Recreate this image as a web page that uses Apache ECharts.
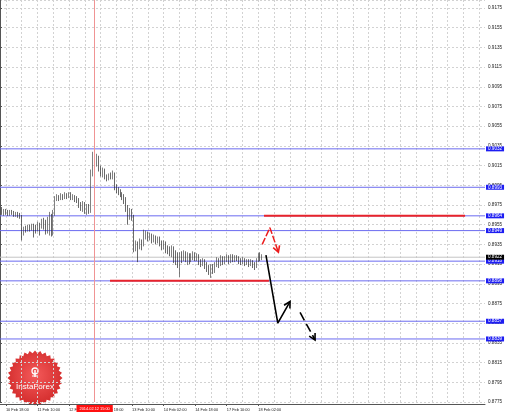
<!DOCTYPE html>
<html>
<head>
<meta charset="utf-8">
<script src="https://cdn.jsdelivr.net/npm/echarts@6/dist/echarts.min.js"></script>
<style>
html, body { margin: 0; padding: 0; background: #fff; }
#chart { width: 510px; height: 416px; }
</style>
</head>
<body>
<div id="chart"></div>
<script>
// USDCHF H1, bar 0 = 10 Feb 15:00
const openP = [
  0.8974,0.8971,0.8967,0.8969,0.8968,0.8966,0.8968,0.8967,0.8965,0.8966,
  0.8965,0.8964,0.8948,0.8951,0.8950,0.8953,0.8951,0.8954,0.8952,0.8950,
  0.8955,0.8953,0.8958,0.8956,0.8952,0.8957,0.8962,0.8947,0.8966,0.8981,
  0.8983,0.8982,0.8984,0.8983,0.8985,0.8984,0.8986,0.8983,0.8984,0.8982,
  0.8980,0.8976,0.8973,0.8977,0.8971,0.8974,0.8969,0.9008,0.9026,0.9020,
  0.9024,0.9012,0.9008,0.9010,0.9004,0.9003,0.9005,0.9004,0.9006,0.8994,
  0.8991,0.8989,0.8986,0.8984,0.8981,0.8972,0.8966,0.8969,0.8963,0.8931,
  0.8936,0.8933,0.8938,0.8935,0.8944,0.8946,0.8942,0.8944,0.8940,0.8942,
  0.8939,0.8941,0.8937,0.8934,0.8936,0.8931,0.8930,0.8928,0.8931,0.8926,
  0.8924,0.8920,0.8925,0.8922,0.8926,0.8921,0.8924,0.8920,0.8923,0.8925,
  0.8922,0.8924,0.8918,0.8916,0.8919,0.8915,0.8912,0.8909,0.8913,0.8910,
  0.8914,0.8919,0.8916,0.8921,0.8918,0.8920,0.8922,0.8919,0.8923,0.8920,
  0.8922,0.8921,0.8919,0.8918,0.8920,0.8917,0.8918,0.8916,0.8918,0.8915,
  0.8913,0.8919,0.8924,0.8921
];
const closeP = [
  0.8971,0.8967,0.8969,0.8968,0.8966,0.8968,0.8967,0.8965,0.8966,0.8965,
  0.8964,0.8948,0.8951,0.8950,0.8953,0.8951,0.8954,0.8952,0.8950,0.8955,
  0.8953,0.8958,0.8956,0.8952,0.8957,0.8962,0.8947,0.8966,0.8981,0.8983,
  0.8982,0.8984,0.8983,0.8985,0.8984,0.8986,0.8983,0.8984,0.8982,0.8980,
  0.8976,0.8973,0.8977,0.8971,0.8974,0.8969,0.9008,0.9026,0.9020,0.9024,
  0.9012,0.9008,0.9010,0.9004,0.9003,0.9005,0.9004,0.9006,0.8994,0.8991,
  0.8989,0.8986,0.8984,0.8981,0.8972,0.8966,0.8969,0.8963,0.8931,0.8936,
  0.8933,0.8938,0.8935,0.8944,0.8946,0.8942,0.8944,0.8940,0.8942,0.8939,
  0.8941,0.8937,0.8934,0.8936,0.8931,0.8930,0.8928,0.8931,0.8926,0.8924,
  0.8920,0.8925,0.8922,0.8926,0.8921,0.8924,0.8920,0.8923,0.8925,0.8922,
  0.8924,0.8918,0.8916,0.8919,0.8915,0.8912,0.8909,0.8913,0.8910,0.8914,
  0.8919,0.8916,0.8921,0.8918,0.8920,0.8922,0.8919,0.8923,0.8920,0.8922,
  0.8921,0.8919,0.8918,0.8920,0.8917,0.8918,0.8916,0.8918,0.8915,0.8913,
  0.8919,0.8924,0.8921,0.8922
];
const lowP = [
  0.8966,0.8965,0.8964,0.8965,0.8964,0.8964,0.8965,0.8963,0.8963,0.8962,
  0.8961,0.8939,0.8944,0.8947,0.8948,0.8948,0.8949,0.8942,0.8946,0.8948,
  0.8944,0.8951,0.8950,0.8945,0.8946,0.8944,0.8943,0.8944,0.8964,0.8979,
  0.8979,0.8980,0.8980,0.8981,0.8981,0.8982,0.8980,0.8980,0.8978,0.8977,
  0.8972,0.8969,0.8968,0.8966,0.8965,0.8966,0.8967,0.9004,0.9016,0.9014,
  0.9009,0.9004,0.9003,0.9001,0.8999,0.9000,0.9001,0.9001,0.8990,0.8987,
  0.8985,0.8983,0.8980,0.8976,0.8968,0.8955,0.8960,0.8959,0.8927,0.8928,
  0.8917,0.8930,0.8929,0.8933,0.8940,0.8938,0.8939,0.8936,0.8937,0.8935,
  0.8936,0.8933,0.8929,0.8930,0.8926,0.8925,0.8923,0.8922,0.8916,0.8914,
  0.8911,0.8902,0.8916,0.8918,0.8917,0.8914,0.8915,0.8917,0.8919,0.8918,
  0.8918,0.8914,0.8912,0.8913,0.8910,0.8907,0.8904,0.8901,0.8905,0.8906,
  0.8912,0.8911,0.8913,0.8914,0.8915,0.8917,0.8915,0.8916,0.8917,0.8917,
  0.8918,0.8915,0.8914,0.8915,0.8913,0.8914,0.8912,0.8913,0.8911,0.8909,
  0.8911,0.8917,0.8918,0.8919
];
const highP = [
  0.8977,0.8973,0.8971,0.8971,0.8970,0.8970,0.8970,0.8969,0.8968,0.8968,
  0.8967,0.8965,0.8953,0.8954,0.8955,0.8955,0.8956,0.8956,0.8955,0.8958,
  0.8957,0.8961,0.8962,0.8960,0.8963,0.8968,0.8966,0.8970,0.8984,0.8986,
  0.8985,0.8987,0.8986,0.8988,0.8987,0.8988,0.8988,0.8986,0.8985,0.8984,
  0.8982,0.8978,0.8979,0.8978,0.8976,0.8976,0.9011,0.9029,0.9037,0.9027,
  0.9025,0.9015,0.9013,0.9012,0.9006,0.9007,0.9008,0.9010,0.9008,0.8996,
  0.8993,0.8991,0.8988,0.8986,0.8983,0.8975,0.8972,0.8971,0.8965,0.8939,
  0.8938,0.8941,0.8940,0.8950,0.8949,0.8948,0.8947,0.8946,0.8945,0.8944,
  0.8943,0.8943,0.8939,0.8939,0.8938,0.8934,0.8933,0.8934,0.8933,0.8929,
  0.8927,0.8927,0.8928,0.8929,0.8928,0.8927,0.8926,0.8926,0.8928,0.8927,
  0.8926,0.8925,0.8920,0.8921,0.8920,0.8917,0.8914,0.8915,0.8915,0.8917,
  0.8922,0.8921,0.8924,0.8923,0.8923,0.8925,0.8924,0.8925,0.8925,0.8924,
  0.8924,0.8923,0.8921,0.8922,0.8921,0.8920,0.8920,0.8920,0.8919,0.8917,
  0.8921,0.8926,0.8927,0.8925
];

// time axis labels (bar index -> text)
const tickIdx = [3, 19, 35, 51, 67, 83, 99, 115, 131];
const tickText = ['10 Feb 18:00', '11 Feb 10:00', '12 Feb 02:00', '12 Feb 18:00', '13 Feb 10:00',
                  '14 Feb 02:00', '14 Feb 18:00', '17 Feb 10:00', '18 Feb 02:00'];

// horizontal levels and the current bid
const levels = [0.9032, 0.8993, 0.8964, 0.8949, 0.8918, 0.8898, 0.8857, 0.8839];
const bidPrice = 0.8922;
const crossIdx = 48;
const crossText = '2014.02.12 15:00';

// drawn objects, [bar index, price]
const supportLine = [[55.8, 0.8898], [136.4, 0.8898]];
const resistLine = [[133.9, 0.8964], [235.9, 0.8964]];
const redPath = [[133.0, 0.8935], [136.9, 0.8952], [141.2, 0.8927]];
const blackPath = [[134.9, 0.8924], [140.9, 0.8855], [147.1, 0.8877]];
const blackDashPath = [[152.2, 0.8866], [159.8, 0.8838]];

const slotCount = 247;
const categories = [];
for (let i = 0; i < slotCount; i++) categories.push(String(i));
const candles = openP.map((o, i) => [o, closeP[i], lowP[i], highP[i]]);

const paths = [redPath, blackPath, blackDashPath];
const headColors = ['#ec1c1c', '#000', '#000'];
const heads = paths.map(p => {
    const a = p[p.length - 2], b = p[p.length - 1];
    return [a[0], a[1], b[0], b[1]];
});

const font = 'Liberation Sans';
const blue = '#6b6bf0';
const gridColor = '#d2d2d2';

let chart = echarts.init(document.getElementById('chart'));

// a full-width horizontal level with its price box on the axis
function levelSeries(v, lineColor, boxColor) {
    return {
        type: 'line', xAxisIndex: 1, silent: true, z: 3,
        data: [[0, v], [slotCount - 1, v]],
        symbol: 'none',
        lineStyle: { color: lineColor, width: 1 },
        endLabel: {
            show: true, distance: 1,
            formatter: () => v.toFixed(4),
            backgroundColor: boxColor, color: '#fff',
            fontSize: 4.6, fontFamily: font, lineHeight: 5, padding: [0, 2, 0, 2]
        }
    };
}

// star badge outline
const starPts = [];
for (let k = 0; k < 64; k++) {
    const r = k % 2 ? 24.8 : 27.5;
    const a = Math.PI * k / 32;
    starPts.push([r * Math.cos(a), r * Math.sin(a)]);
}

let series = [
    {
        name: 'USDCHF,H1',
        type: 'candlestick',
        data: candles,
        barWidth: 1,
        z: 4,
        itemStyle: {
            color: '#9a9a9a', color0: '#2a2a2a',
            borderColor: '#4a4a4a', borderColor0: '#2a2a2a', borderWidth: 0.7
        },
        markLine: {
            silent: true,
            symbol: ['none', 'none'],
            data: [{
                xAxis: categories[crossIdx],
                lineStyle: { color: '#f09494', width: 1, type: 'solid' },
                label: {
                    show: true, position: 'start', distance: 3,
                    formatter: crossText,
                    backgroundColor: '#ff1010', color: '#fff',
                    fontSize: 3.9, fontFamily: font, lineHeight: 5, padding: [1, 3, 1, 3]
                }
            }]
        }
    }
];
levels.forEach(v => series.push(levelSeries(v, blue, '#1d1df2')));
series.push(levelSeries(bidPrice, '#c4c4c4', '#000'));
series.push(
    {
        type: 'line', xAxisIndex: 1, data: supportLine, symbol: 'none', silent: true, z: 5,
        lineStyle: { color: '#e8232a', width: 2 }
    },
    {
        type: 'line', xAxisIndex: 1, data: resistLine, symbol: 'none', silent: true, z: 5,
        lineStyle: { color: '#e8232a', width: 2 }
    },
    {
        type: 'line', xAxisIndex: 1, data: redPath, symbol: 'none', silent: true, z: 6,
        lineStyle: { color: '#ec1c1c', width: 1.5, type: [7, 2] }
    },
    {
        type: 'line', xAxisIndex: 1, data: blackPath, symbol: 'none', silent: true, z: 6,
        lineStyle: { color: '#000', width: 1.6 }
    },
    {
        type: 'line', xAxisIndex: 1, data: blackDashPath, symbol: 'none', silent: true, z: 6,
        lineStyle: { color: '#000', width: 1.6, type: [9, 4] }
    },
    {
        type: 'custom', xAxisIndex: 1, data: heads, silent: true, z: 6, clip: false,
        renderItem: function (params, api) {
            const a = api.coord([api.value(0), api.value(1)]);
            const b = api.coord([api.value(2), api.value(3)]);
            const ang = Math.atan2(a[1] - b[1], a[0] - b[0]);
            const len = 7, spread = 0.5;
            return {
                type: 'polyline',
                shape: { points: [
                    [b[0] + len * Math.cos(ang + spread), b[1] + len * Math.sin(ang + spread)],
                    b,
                    [b[0] + len * Math.cos(ang - spread), b[1] + len * Math.sin(ang - spread)]
                ] },
                style: { stroke: headColors[params.dataIndex], lineWidth: 1.6, fill: 'none' }
            };
        }
    }
);

let option = {
    animation: false,
    backgroundColor: '#fff',
    grid: { left: 0, right: 25, top: 0, bottom: 14, containLabel: false, outerBoundsMode: 'none' },
    xAxis: [{
        type: 'category',
        data: categories,
        boundaryGap: false,
        offset: 2,
        axisLine: { lineStyle: { color: '#555', width: 1 } },
        axisTick: {
            show: true, length: 2,
            interval: (i) => tickIdx.indexOf(i) >= 0,
            lineStyle: { color: '#555' }
        },
        axisLabel: {
            interval: (i) => tickIdx.indexOf(i) >= 0,
            formatter: (v, i) => tickText[tickIdx.indexOf(i)] || '',
            fontSize: 3.9, fontFamily: font, color: '#222',
            align: 'left', margin: 4
        },
        splitLine: {
            show: true,
            interval: (i) => i >= 3 && (i - 3) % 8 === 0,
            lineStyle: { color: gridColor, type: [2, 2], width: 1 }
        }
    }, {
        type: 'value', min: 0, max: slotCount - 1, show: false
    }],
    yAxis: {
        type: 'value',
        position: 'right',
        min: 0.8775,
        max: 0.918312,
        interval: 0.002,
        axisLine: { show: true, lineStyle: { color: '#555', width: 1 } },
        axisTick: { show: true, length: 2, lineStyle: { color: '#555' } },
        axisLabel: {
            formatter: (v) => v.toFixed(4),
            fontSize: 4.6, fontFamily: font, color: '#222', margin: 3,
            showMaxLabel: false
        },
        splitLine: { show: true, lineStyle: { color: gridColor, type: [2, 2], width: 1 } }
    },
    series: series,
    graphic: [{
        type: 'group', x: 35, y: 378, z: 100,
        children: [
            {
                type: 'polygon', shape: { points: starPts },
                style: { fill: new echarts.graphic.RadialGradient(0.5, 0.45, 0.6, [
                    { offset: 0, color: '#f45a5a' }, { offset: 1, color: '#d02828' }]) }
            },
            { type: 'circle', shape: { cx: 0, cy: -7, r: 3 }, style: { fill: 'none', stroke: '#fff', lineWidth: 1.3 } },
            { type: 'line', shape: { x1: 0, y1: -8, x2: 0, y2: -1 }, style: { stroke: '#fff', lineWidth: 1.5 } },
            { type: 'line', shape: { x1: -3, y1: -2, x2: 3, y2: -2 }, style: { stroke: '#fff', lineWidth: 1 } },
            {
                type: 'text', x: 0, y: 9,
                style: { text: 'InstaForex', fill: '#fff', font: '8px "Liberation Sans"', align: 'center', verticalAlign: 'middle' }
            }
        ]
    }]
};
chart.setOption(option);
</script>
</body>
</html>
